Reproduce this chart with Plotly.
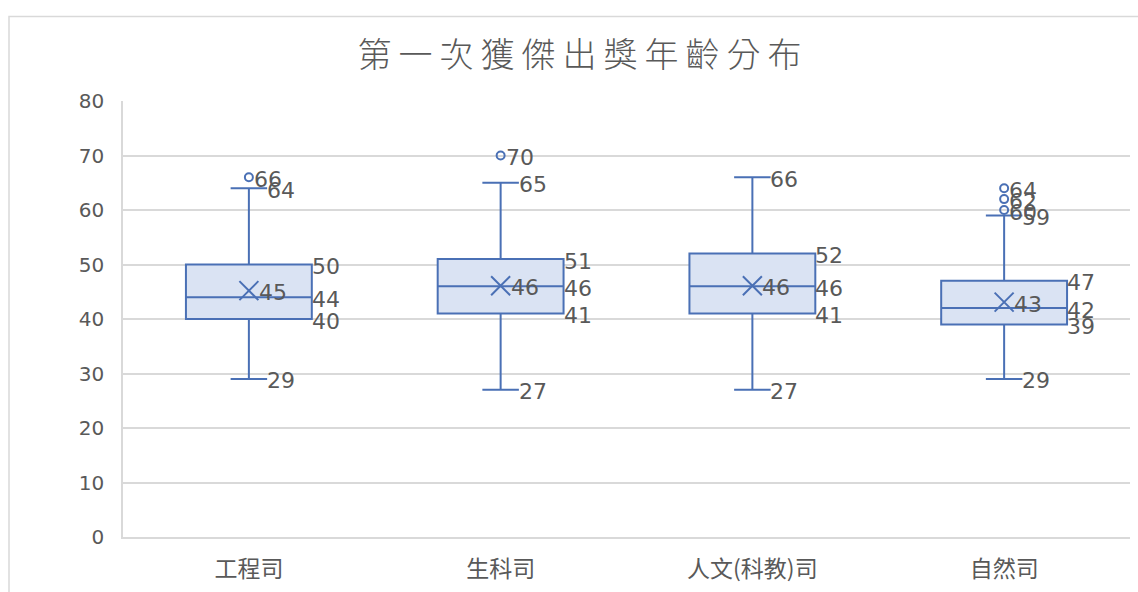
import plotly.graph_objects as go

categories = ["工程司", "生科司", "人文(科教)司", "自然司"]
mins = [29, 27, 27, 29]
q1s = [40, 41, 41, 39]
medians = [44, 46, 46, 42]
q3s = [50, 51, 52, 47]
maxs = [64, 65, 66, 59]
means = [45.2, 46.1, 46.1, 43.1]
outlier_cat = [0, 1, 3, 3, 3]
outlier_val = [66, 70, 60, 62, 64]
y_ticks = [0, 10, 20, 30, 40, 50, 60, 70, 80]

LINE = "#4A70B5"
FILL = "#DAE3F3"
TXT = "#595959"
GRID = "#D9D9D9"
FONT = "Noto Sans CJK TC"
NUMFONT = "DejaVu Sans"

xs = list(range(len(categories)))
fig = go.Figure()

fig.add_trace(go.Box(
    x=xs, q1=q1s, median=medians, q3=q3s, lowerfence=mins, upperfence=maxs,
    width=0.5, whiskerwidth=0.29, fillcolor=FILL,
    line=dict(color=LINE, width=2), boxpoints=False,
    showlegend=False, hoverinfo="skip"))

fig.add_trace(go.Scatter(
    x=xs, y=means, mode="markers",
    marker=dict(symbol="x-thin", size=19, line=dict(color=LINE, width=2), color=LINE),
    showlegend=False, hoverinfo="skip"))

fig.add_trace(go.Scatter(
    x=outlier_cat, y=outlier_val, mode="markers",
    marker=dict(symbol="circle-open", size=8, line=dict(color=LINE, width=2), color=LINE),
    showlegend=False, hoverinfo="skip"))

annotations = []

def labels(xv, yv, shift):
    for a, v in zip(xv, yv):
        annotations.append(dict(
            x=a, y=v, xref="x", yref="y", text=str(int(round(v))),
            showarrow=False, xanchor="left", yanchor="middle",
            xshift=shift, yshift=-2, borderpad=0,
            font=dict(family=NUMFONT, size=22, color=TXT)))

labels(xs, maxs, 17)
labels(xs, mins, 17)
labels(xs, q3s, 62)
labels(xs, medians, 62)
labels(xs, q1s, 62)
labels(xs, means, 9)
labels(outlier_cat, outlier_val, 4)

fig.update_layout(
    width=1138, height=592,
    margin=dict(l=123, r=8, t=101, b=53),
    paper_bgcolor="white", plot_bgcolor="white",
    font=dict(family=FONT, color=TXT),
    title=dict(text='<span style="letter-spacing:7px">第一次獲傑出獎年齡分布</span>',
               x=583 / 1138, xanchor="center",
               y=1 - 55 / 592, yanchor="middle",
               font=dict(family=FONT, size=34, color=TXT, weight=300)),
    xaxis=dict(range=[-0.5, 3.5], tickvals=xs, ticktext=categories,
               showgrid=False, zeroline=False, showline=True, linecolor=GRID,
               linewidth=1.5, ticks="", ticklabelstandoff=11,
               tickfont=dict(family=FONT, size=23, color=TXT)),
    yaxis=dict(range=[0, 80], tickvals=y_ticks, showgrid=True, gridcolor=GRID,
               gridwidth=1.5, zeroline=False, showline=True, linecolor=GRID,
               linewidth=1.5, ticks="", ticklabelstandoff=13,
               tickfont=dict(family=NUMFONT, size=20, color=TXT)),
    annotations=annotations,
    shapes=[dict(type="rect", xref="paper", yref="paper",
                 x0=(9 - 123) / 1007, x1=(1145 - 123) / 1007,
                 y0=(539 - 600) / 438, y1=(539 - 16) / 438,
                 line=dict(color=GRID, width=1.5), fillcolor="rgba(0,0,0,0)",
                 layer="below")],
)

fig.write_html("out.html")
